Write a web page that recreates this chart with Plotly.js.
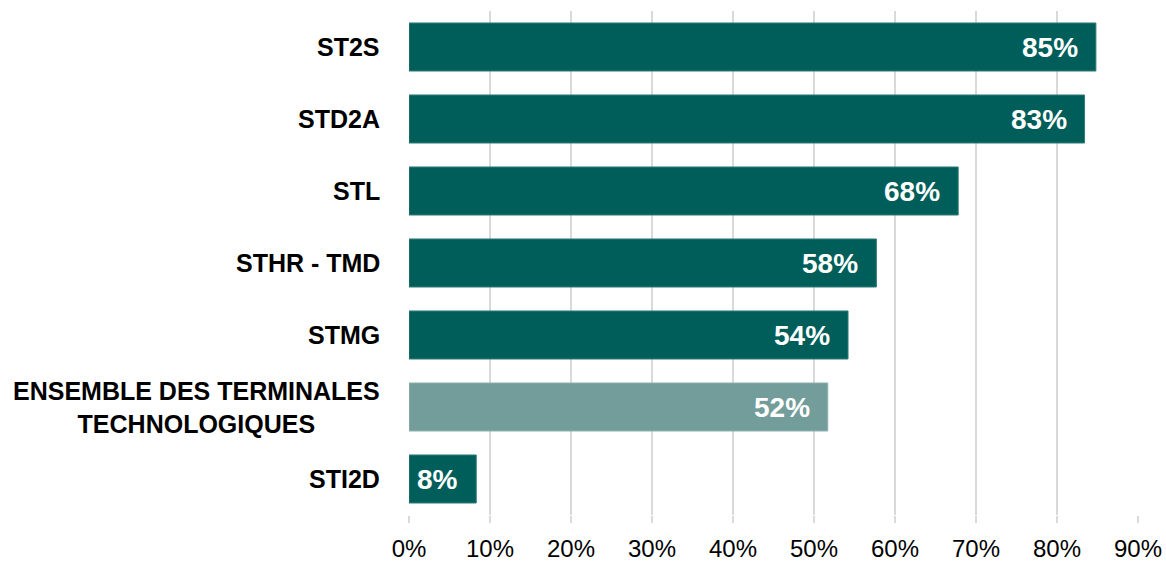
<!DOCTYPE html>
<html>
<head>
<meta charset="utf-8">
<script src="https://cdn.plot.ly/plotly-3.0.1.min.js"></script>
<style>html,body{margin:0;padding:0;background:#fff;}#chart{width:1166px;height:565px;}</style>
</head>
<body>
<div id="chart"></div>
<script>
var categories = ["ST2S", "STD2A", "STL", "STHR - TMD", "STMG", "ENSEMBLE DES TERMINALES<br>TECHNOLOGIQUES", "STI2D"];
var values = [0.848, 0.834, 0.678, 0.577, 0.542, 0.517, 0.083];
var isTotal = [false, false, false, false, false, true, false];
var xTicks = [0, 0.1, 0.2, 0.3, 0.4, 0.5, 0.6, 0.7, 0.8, 0.9];

var FONT = '"Liberation Sans", Arial, sans-serif';
var dark = '#005E5A', light = '#739D9A';
var colors = isTotal.map(function(t){ return t ? light : dark; });
var lines = isTotal.map(function(t){ return t ? '#8fb2af' : '#2f7c77'; });

var trace = {
  type: 'bar',
  orientation: 'h',
  y: categories,
  x: values,
  marker: {color: colors, line: {color: lines, width: 1}},
  hoverinfo: 'none'
};

var annotations = [];
categories.forEach(function(c, i){
  annotations.push({
    xref: 'paper', yref: 'y', x: 0, y: c, xanchor: 'right', yanchor: 'middle',
    xshift: -27, align: 'center', showarrow: false, text: c,
    font: {family: FONT, size: 25, color: '#000', weight: 'bold'}
  });
  annotations.push({
    xref: 'x', yref: 'y', x: values[i], y: c, xanchor: 'right', yanchor: 'middle',
    xshift: -16, showarrow: false, text: Math.round(values[i]*100) + '%',
    font: {family: FONT, size: 28, color: '#fff', weight: 'bold'}
  });
});

var layout = {
  width: 1166, height: 565,
  margin: {l: 409, r: 28, t: 11, b: 50},
  paper_bgcolor: '#fff', plot_bgcolor: '#fff',
  showlegend: false,
  bargap: 0.333,
  font: {family: FONT, color: '#000'},
  xaxis: {
    range: [0, 0.9], tickvals: xTicks, tickformat: '.0%',
    showgrid: true, gridcolor: '#d9d9d9', gridwidth: 2,
    zeroline: false, showline: false,
    ticks: 'outside', ticklen: 7, tickwidth: 2, tickcolor: '#d9d9d9',
    ticklabelstandoff: 5, ticklabeloverflow: 'allow',
    tickfont: {family: FONT, size: 24, color: '#000'},
    fixedrange: true
  },
  yaxis: {
    autorange: 'reversed', showticklabels: false, showgrid: false,
    zeroline: false, showline: false, ticks: '', fixedrange: true
  },
  annotations: annotations
};

Plotly.newPlot('chart', [trace], layout, {staticPlot: true, displayModeBar: false});
</script>
</body>
</html>
